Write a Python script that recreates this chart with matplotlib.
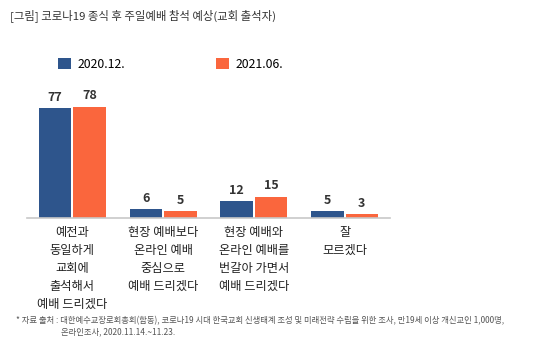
import matplotlib
matplotlib.use("Agg")
import matplotlib.pyplot as plt
import numpy as np

plt.rcParams['font.family'] = ['Noto Sans CJK KR', 'DejaVu Sans']

# 데이터
categories = ["예전과\n동일하게\n교회에\n출석해서\n예배 드리겠다",
              "현장 예배보다\n온라인 예배\n중심으로\n예배 드리겠다",
              "현장 예배와\n온라인 예배를\n번갈아 가면서\n예배 드리겠다",
              "잘\n모르겠다"]
series_names = ["2020.12.", "2021.06."]
values_2020 = [77, 6, 12, 5]
values_2021 = [78, 5, 15, 3]

blue = "#2E558C"
orange = "#FA663D"

fig = plt.figure(figsize=(5.4, 3.51), dpi=100)
ax = fig.add_axes([27/540, 1 - 218/351, (390 - 27)/540, 130/351])

x = np.arange(len(categories))
w = 0.36
b1 = ax.bar(x - 0.19, values_2020, w, color=blue, label=series_names[0])
b2 = ax.bar(x + 0.19, values_2021, w, color=orange, label=series_names[1])

for bars in (b1, b2):
    ax.bar_label(bars, padding=3, fontsize=9, color="#333333", fontweight="bold")

ax.set_xlim(-0.5, 3.5)
ax.set_ylim(0, 91)
ax.set_yticks([])
ax.set_xticks(x)
ax.set_xticklabels(categories, fontsize=8.8, color="#222222", linespacing=1.5)
ax.tick_params(axis="x", length=0, pad=5.5)
for s in ["top", "right", "left"]:
    ax.spines[s].set_visible(False)
ax.spines["bottom"].set_color("#C8C8C8")
ax.spines["bottom"].set_linewidth(1.2)

# 제목
fig.text(10/540, 1 - 16/351, "[그림] 코로나19 종식 후 주일예배 참석 예상(교회 출석자)",
         fontsize=8.2, color="#333333", va="center", ha="left")

# 범례
fig.legend(handles=[b1, b2], loc="center left", bbox_to_anchor=(58/540, 1 - 64/351),
           ncol=2, frameon=False, fontsize=8.8, handlelength=1.05, handleheight=1.0,
           handletextpad=0.56, columnspacing=7.4, borderpad=0, borderaxespad=0)

# 출처
fig.text(16/540, 1 - 321/351,
         "* 자료 출처 : 대한예수교장로회총회(합동), 코로나19 시대 한국교회 신생태계 조성 및 미래전략 수립을 위한 조사, 만19세 이상 개신교인 1,000명,",
         fontsize=6.0, color="#555555", va="center", ha="left")
fig.text(61/540, 1 - 332/351, "온라인조사, 2020.11.14.~11.23.",
         fontsize=6.0, color="#555555", va="center", ha="left")

fig.savefig("out.png", dpi=100)
